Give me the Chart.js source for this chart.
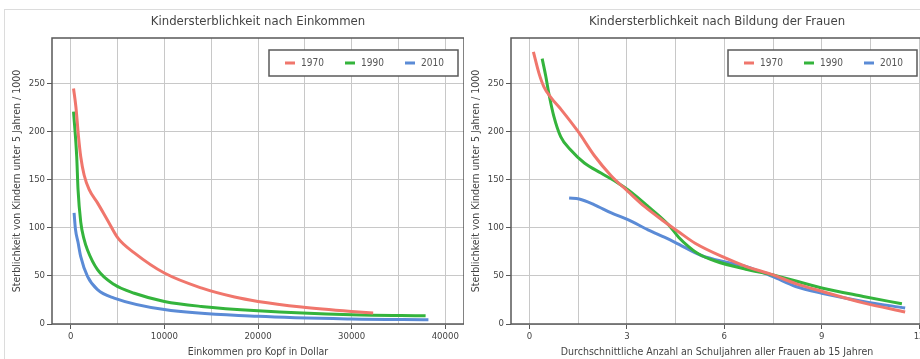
<!DOCTYPE html>
<html lang="de">
<head>
<meta charset="UTF-8">
<title>Kindersterblichkeit</title>
<script src="https://cdn.jsdelivr.net/npm/chart.js@4.4.1/dist/chart.umd.min.js"></script>
<style>
  html, body { margin: 0; padding: 0; background: #fff; overflow: hidden; }
  .frame {
    position: absolute; left: 4px; top: 9px;
    width: 940px; height: 380px;
    border: 1px solid #dcdcdc;
  }
  .panel { position: absolute; top: 0; width: 459px; height: 350px; }
  #left { left: 0; }
  #right { left: 459px; }
</style>
</head>
<body>
<div class="frame">
  <div class="panel" id="left"><canvas id="incomeChart" width="459" height="350"></canvas></div>
  <div class="panel" id="right"><canvas id="eduChart" width="459" height="350"></canvas></div>
</div>
<script>
// --- data ---
const seriesNames = ["1970", "1990", "2010"];

// income per head (dollar) vs. under-5 mortality per 1000
const incX1970 = [300, 550, 830, 1070, 1430, 1960, 2860, 3930, 5070, 6790, 10000, 13930, 17500, 20000, 24650, 30000, 32300];
const incY1970 = [245, 226, 195, 174, 155, 140, 126, 108, 89, 74, 53, 37.5, 28, 23.5, 17.7, 13, 11.4];
const incX1990 = [300, 640, 780, 1070, 1430, 1790, 2860, 4640, 6790, 10000, 13930, 20000, 30000, 37900];
const incY1990 = [221, 174, 140, 106, 88, 77, 56.5, 41, 32, 23.5, 18.3, 13.8, 9.7, 8.6];
const incX2010 = [360, 500, 780, 1070, 1790, 2860, 4640, 10000, 20000, 30000, 38200];
const incY2010 = [115.5, 99, 85, 70, 49.5, 35.7, 27, 15, 8, 5.2, 4.5];

// average school years of women 15+ vs. under-5 mortality per 1000
const eduX1970 = [0.12, 0.29, 0.44, 0.65, 1.0, 1.5, 2.0, 2.52, 3.03, 3.55, 4.07, 4.59, 5.1, 6.03, 6.66, 7.48, 8.2, 9.0, 10.28, 11.57];
const eduY1970 = [283, 261, 247, 236, 222, 200, 175, 154, 138, 122, 108.5, 96, 84, 68.7, 60, 51.3, 42, 34, 22, 12.5];
const eduX1990 = [0.39, 0.5, 0.6, 0.75, 0.96, 1.27, 1.69, 2.2, 2.72, 3.03, 3.65, 4.28, 4.6, 4.9, 5.2, 5.72, 6.66, 7.48, 9.0, 10.28, 11.47];
const eduY1990 = [276, 258, 239, 216, 195, 181, 167.5, 157, 146.7, 139.7, 122.4, 103.3, 90, 80.5, 73, 65.5, 57, 51.3, 37.5, 28.7, 21];
const eduX2010 = [1.22, 1.53, 2.0, 2.52, 3.03, 3.65, 4.17, 4.48, 5.31, 6.03, 6.66, 7.48, 8.2, 9.0, 10.28, 11.57];
const eduY2010 = [131, 130, 124, 115.5, 108.5, 98, 90, 85, 71, 64.5, 60, 49.5, 39, 32, 23.5, 16.6];

// tick positions (grid every step, labels only on some)
const incTicksX = [0, 5000, 10000, 15000, 20000, 25000, 30000, 35000, 40000];
const eduTicksX = [0, 1.5, 3, 4.5, 6, 7.5, 9, 10.5, 12];
const ticksY = [0, 50, 100, 150, 200, 250];

const colors = ["#f0766c", "#34b43c", "#5b8bd6"];
const yTitle = "Sterblichkeit von Kindern unter 5 Jahren / 1000";
const fontFamily = "'Liberation Sans Narrow', 'DejaVu Sans Condensed', Lato, sans-serif";

Chart.defaults.font.family = fontFamily;
Chart.defaults.color = "#444";

function zip(xs, ys) {
  return xs.map((x, i) => ({ x: x, y: ys[i] }));
}

function makeDatasets(pairs) {
  return pairs.map((p, i) => ({
    label: seriesNames[i],
    data: zip(p[0], p[1]),
    borderColor: colors[i],
    backgroundColor: colors[i],
    borderWidth: 3,
    pointRadius: 0,
    cubicInterpolationMode: "monotone",
    fill: false
  }));
}

// plot frame + boxed legend inside the plot area
const framePlugin = {
  id: "frameAndLegend",
  afterDraw(chart) {
    const ctx = chart.ctx;
    const a = chart.chartArea;
    ctx.save();
    ctx.strokeStyle = "#585858";
    ctx.lineWidth = 1.5;
    ctx.strokeRect(a.left, a.top, a.right - a.left, a.bottom - a.top);

    const w = 189, h = 26;
    const bx = Math.min(a.right, 463) - 6 - w, by = a.top + 12;
    ctx.fillStyle = "#fff";
    ctx.fillRect(bx, by, w, h);
    ctx.strokeStyle = "#5a5a5a";
    ctx.lineWidth = 1.5;
    ctx.strokeRect(bx, by, w, h);
    const midY = by + h / 2;
    ctx.font = "10px " + fontFamily;
    ctx.textBaseline = "middle";
    ctx.textAlign = "left";
    chart.data.datasets.forEach((ds, i) => {
      const sx = bx + 16 + i * 60;
      ctx.fillStyle = ds.borderColor;
      ctx.fillRect(sx, midY - 1.5, 10, 3);
      ctx.fillStyle = "#555";
      ctx.fillText(ds.label, sx + 16, midY + 0.5);
    });
    ctx.restore();
  }
};

function makeChart(id, title, xTitle, datasets, xMin, xMax, xTicks, labelEvery) {
  const isLabeled = v => Math.abs(v / labelEvery - Math.round(v / labelEvery)) < 1e-6;
  return new Chart(document.getElementById(id), {
    type: "line",
    data: { datasets: datasets },
    plugins: [framePlugin],
    options: {
      responsive: false,
      animation: false,
      layout: { padding: 0 },
      plugins: {
        legend: { display: false },
        tooltip: { enabled: false },
        title: {
          display: true,
          text: title,
          fullSize: false,
          color: "#444",
          font: { size: 13, weight: "normal" },
          padding: { top: 4, bottom: 8.4 }
        }
      },
      scales: {
        x: {
          type: "linear",
          min: xMin,
          max: xMax,
          afterBuildTicks: s => { s.ticks = xTicks.map(v => ({ value: v })); },
          afterFit: s => { s.height = 36; s.paddingLeft = 0; s.paddingRight = 0; },
          ticks: {
            autoSkip: false,
            maxRotation: 0,
            padding: 2,
            color: "#444",
            font: { size: 9.5 },
            callback: v => isLabeled(v) ? String(Math.round(v)) : ""
          },
          grid: {
            color: "#c8c8c8",
            lineWidth: 1,
            tickLength: 5,
            tickColor: c => (c.tick && isLabeled(c.tick.value)) ? "#585858" : "rgba(0,0,0,0)"
          },
          border: { display: false },
          title: {
            display: true,
            text: xTitle,
            color: "#444",
            font: { size: 10.5 },
            padding: { top: 0, bottom: 1 }
          }
        },
        y: {
          type: "linear",
          min: 0,
          max: 297.5,
          afterBuildTicks: s => { s.ticks = ticksY.map(v => ({ value: v })); },
          afterFit: s => { s.width = 47; },
          ticks: {
            padding: 2,
            color: "#444",
            font: { size: 9.5 }
          },
          grid: {
            color: "#c8c8c8",
            lineWidth: 1,
            tickLength: 5,
            tickColor: "#585858"
          },
          border: { display: false },
          title: {
            display: true,
            text: yTitle,
            color: "#444",
            font: { size: 10.5 },
            padding: { top: 6, bottom: 0 }
          }
        }
      }
    }
  });
}

makeChart("incomeChart", "Kindersterblichkeit nach Einkommen", "Einkommen pro Kopf in Dollar",
  makeDatasets([[incX1970, incY1970], [incX1990, incY1990], [incX2010, incY2010]]),
  -2000, 42000, incTicksX, 10000);

makeChart("eduChart", "Kindersterblichkeit nach Bildung der Frauen",
  "Durchschnittliche Anzahl an Schuljahren aller Frauen ab 15 Jahren",
  makeDatasets([[eduX1970, eduY1970], [eduX1990, eduY1990], [eduX2010, eduY2010]]),
  -0.57, 12.12, eduTicksX, 3);
</script>
</body>
</html>
